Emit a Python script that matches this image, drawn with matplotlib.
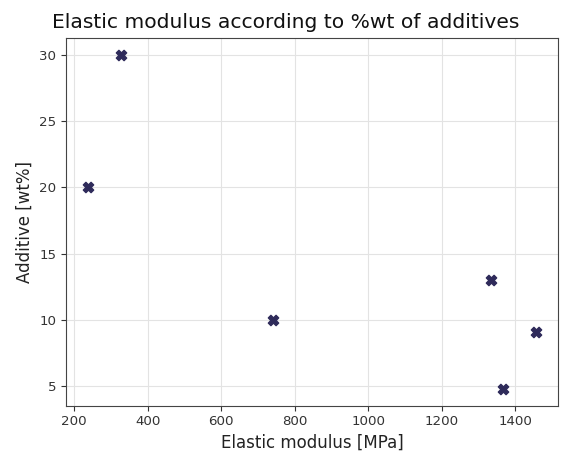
import matplotlib
matplotlib.use("Agg")
import matplotlib.pyplot as plt

modulus = [239, 328, 740, 1334, 1366, 1455]
additive = [20, 30, 10, 13, 4.77, 9.1]

fig = plt.figure(figsize=(5.66, 4.53), dpi=100)
ax = fig.add_axes([0.1166, 0.1044, 0.8694, 0.8111])
ax.scatter(modulus, additive, marker='X', s=55, color='#2e2a5a', zorder=3)
ax.grid(True, color='#e3e3e3', linewidth=0.8)
ax.set_axisbelow(True)
ax.set_xlabel('Elastic modulus [MPa]', fontsize=12, color='#222222')
ax.set_ylabel('Additive [wt%]', fontsize=12, color='#222222')
fig.text(0.505, 0.95, 'Elastic modulus according to %wt of additives',
         fontsize=14.6, color='#111111', ha='center', va='center')
ax.tick_params(labelsize=9.6, colors='#333333')
for s in ax.spines.values():
    s.set_color('#444444')
fig.savefig('out.png', dpi=100)
